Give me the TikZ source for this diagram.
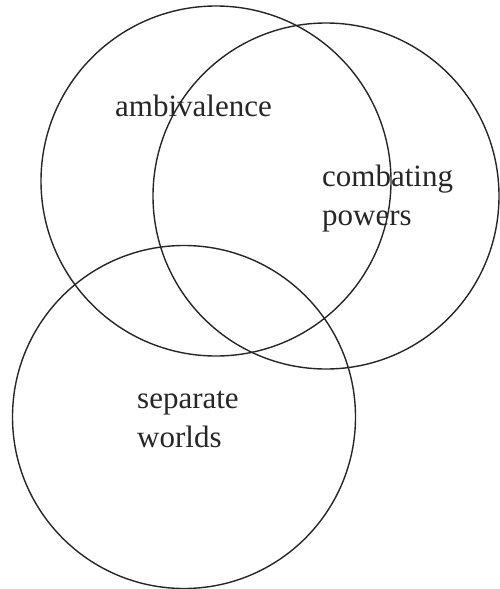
\documentclass[tikz,border=0pt]{standalone}
\usepackage{fontspec}
\setmainfont{Liberation Serif}
\begin{document}
\begin{tikzpicture}[x=1pt,y=-1pt,
    ring/.style={draw=black!85,line width=1.4pt,circle,inner sep=0pt},
    lbl/.style={anchor=base west,align=left,inner sep=0pt,text=black!85,
                font=\fontsize{31}{39}\selectfont}]
  \useasboundingbox (0,0) rectangle (499,589);
  % the three circles
  \node[ring,minimum size=350pt] (amb) at (216,181) {};
  \node[ring,minimum size=346pt] (com) at (326,196) {};
  \node[ring,minimum size=343pt] (sep) at (184,417) {};
  % labels (base = last line)
  \node[lbl] (ambl) at (115,116) {ambivalence};
  \node[lbl] (coml) at (322,225) {combating\\powers};
  \node[lbl] (sepl) at (137,447) {separate\\worlds};
\end{tikzpicture}
\end{document}
